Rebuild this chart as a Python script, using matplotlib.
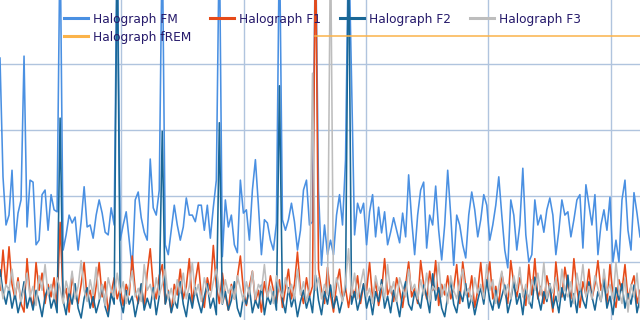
import numpy as np
import matplotlib
matplotlib.use("Agg")
import matplotlib.pyplot as plt

labels = ["Halograph FM", "Halograph F1", "Halograph F2", "Halograph F3", "Halograph fREM"]
colors = ["#4a90e2", "#e64a19", "#1a6796", "#bdbdbd", "#fbb34a"]

fm = [4.09, 2.29, 1.56, 1.71, 2.39, 1.30, 1.74, 1.94, 4.12, 1.53,
      2.24, 2.21, 1.26, 1.33, 2.02, 2.09, 1.48, 2.02, 1.79, 1.76,
      6.0, 1.18, 1.41, 1.71, 1.59, 1.68, 1.18, 1.61, 2.14, 1.53,
      1.56, 1.36, 1.71, 1.94, 1.74, 1.45, 1.41, 1.82, 1.56, 6.0,
      1.33, 1.56, 1.76, 1.33, 0.88, 1.94, 2.06, 1.67, 1.45, 1.33,
      2.56, 1.82, 1.71, 2.09, 6.0, 1.26, 1.11, 1.48, 1.86, 1.56,
      1.33, 1.53, 1.97, 1.71, 1.71, 1.61, 1.86, 1.86, 1.48, 1.86,
      1.36, 1.83, 2.24, 6.0, 1.08, 1.94, 1.53, 1.71, 1.26, 1.14,
      2.24, 1.74, 1.79, 1.33, 2.09, 2.55, 1.86, 1.11, 1.64, 1.59,
      1.33, 1.18, 1.59, 6.0, 1.64, 1.48, 1.64, 1.89, 1.61, 1.18,
      1.48, 2.09, 2.24, 1.56, 1.61, 6.0, 2.09, 0.95, 1.56, 1.11,
      1.33, 1.11, 1.71, 2.02, 1.56, 2.55, 6.0, 3.76, 1.41, 1.89,
      1.74, 1.89, 1.26, 1.76, 2.02, 1.38, 1.83, 1.44, 1.76, 1.26,
      1.45, 1.67, 1.48, 1.29, 1.74, 1.38, 2.32, 1.64, 1.11, 1.71,
      2.09, 2.21, 1.21, 1.71, 1.56, 2.15, 1.48, 1.03, 1.56, 2.39,
      1.71, 0.95, 1.71, 1.56, 1.26, 1.06, 1.71, 2.06, 1.79, 1.38,
      1.64, 2.02, 1.86, 1.33, 1.56, 1.86, 2.29, 1.71, 1.18, 0.91,
      1.94, 1.71, 1.18, 1.56, 2.42, 1.41, 1.00, 1.11, 1.94, 1.56,
      1.71, 1.45, 1.79, 1.97, 1.71, 1.11, 1.48, 1.94, 1.71, 1.76,
      1.38, 1.64, 1.94, 2.02, 1.21, 2.17, 1.86, 1.56, 2.02, 1.11,
      1.56, 1.79, 1.48, 1.98, 1.00, 1.33, 1.00, 1.94, 2.24, 1.48,
      1.18, 2.05, 1.74, 1.38]

f1 = [0.57, 1.18, 0.63, 1.23, 0.66, 0.44, 0.76, 0.37, 0.24, 1.05,
      0.50, 0.31, 0.99, 0.57, 0.83, 0.37, 0.66, 0.47, 0.76, 0.31,
      1.60, 0.44, 0.60, 0.24, 0.79, 0.50, 0.37, 0.66, 0.99, 0.44,
      0.57, 0.31, 0.63, 0.99, 0.47, 0.70, 0.24, 0.53, 0.76, 0.44,
      0.60, 0.34, 0.66, 0.50, 1.09, 0.57, 0.37, 0.66, 0.31, 0.83,
      1.20, 0.63, 0.44, 0.79, 0.96, 0.37, 0.57, 0.24, 0.66, 0.50,
      0.89, 0.44, 0.63, 1.05, 0.37, 0.70, 0.99, 0.50, 0.31, 0.76,
      0.57, 1.25, 0.63, 0.37, 0.83, 0.50, 0.27, 0.66, 0.44, 0.76,
      1.09, 0.57, 0.34, 0.63, 0.86, 0.40, 0.57, 0.24, 0.70, 0.47,
      0.79, 0.57, 0.37, 0.73, 0.31, 0.60, 0.89, 0.44, 0.66, 1.15,
      0.57, 0.37, 0.76, 0.47, 0.63, 6.0, 0.89, 0.57, 0.37, 0.92,
      0.50, 0.24, 0.66, 0.89, 0.44, 0.60, 0.31, 0.63, 0.47, 0.79,
      0.37, 0.66, 0.57, 0.99, 0.44, 0.70, 0.34, 0.57, 1.05, 0.50,
      0.63, 0.40, 0.76, 0.57, 0.31, 0.66, 1.00, 0.47, 0.60, 0.37,
      1.02, 0.66, 0.44, 0.86, 0.57, 1.02, 0.34, 0.66, 0.50, 0.79,
      0.44, 0.60, 0.96, 0.37, 1.00, 0.63, 0.47, 0.79, 0.31, 0.57,
      0.99, 0.50, 0.66, 1.00, 0.44, 0.63, 0.34, 0.83, 0.57, 0.37,
      1.02, 0.66, 0.47, 0.76, 0.57, 0.34, 0.96, 0.50, 1.05, 0.44,
      0.63, 0.37, 0.79, 0.57, 0.24, 1.00, 0.57, 0.47, 0.92, 0.63,
      0.44, 1.05, 0.60, 0.31, 0.70, 0.50, 0.89, 0.44, 0.66, 1.02,
      0.57, 0.76, 0.37, 0.96, 0.50, 0.31, 0.73, 0.57, 0.96, 0.44,
      0.63, 0.79, 0.37, 0.57]

f2 = [0.88, 0.55, 0.36, 0.61, 0.30, 0.52, 0.23, 0.42, 0.70, 0.30,
      0.48, 0.27, 0.57, 0.40, 0.17, 0.48, 0.61, 0.30, 0.45, 0.23,
      3.18, 0.42, 0.20, 0.55, 0.36, 0.67, 0.30, 0.15, 0.45, 0.61,
      0.30, 0.48, 0.23, 0.40, 0.65, 0.32, 0.17, 0.52, 0.36, 6.0,
      0.42, 0.23, 0.57, 0.36, 0.48, 0.17, 0.40, 0.67, 0.27, 0.45,
      0.30, 0.61, 0.20, 0.48, 2.98, 0.36, 0.55, 0.23, 0.42, 0.30,
      0.70, 0.36, 0.17, 0.52, 0.30, 0.61, 0.40, 0.23, 0.48, 0.67,
      0.30, 0.45, 0.20, 3.11, 0.36, 0.55, 0.27, 0.42, 0.70, 0.30,
      0.17, 0.48, 0.36, 0.61, 0.23, 0.42, 0.30, 0.65, 0.20, 0.48,
      0.36, 0.55, 0.27, 3.67, 0.42, 0.23, 0.61, 0.32, 0.48, 0.17,
      0.40, 0.57, 0.30, 0.48, 0.23, 0.80, 0.42, 0.20, 0.55, 0.36,
      0.65, 0.30, 0.48, 0.23, 0.42, 0.61, 6.0, 0.36, 0.55, 0.27,
      0.45, 0.67, 0.30, 0.48, 0.20, 0.55, 0.40, 0.73, 0.30, 0.48,
      0.23, 0.57, 0.40, 0.17, 0.52, 0.70, 0.36, 0.27, 0.55, 0.42,
      0.30, 0.65, 0.48, 0.23, 0.82, 0.42, 0.61, 0.30, 0.17, 0.48,
      0.70, 0.36, 0.23, 0.55, 0.40, 0.67, 0.30, 0.48, 0.20, 0.42,
      0.61, 0.36, 0.73, 0.42, 0.27, 0.57, 0.30, 0.48, 0.65, 0.23,
      0.42, 0.70, 0.36, 0.52, 0.20, 0.61, 0.42, 0.30, 0.77, 0.48,
      0.27, 0.55, 0.40, 0.67, 0.30, 0.48, 0.23, 0.61, 0.42, 0.80,
      0.32, 0.52, 0.23, 0.65, 0.42, 0.30, 0.70, 0.48, 0.27, 0.55,
      0.40, 0.73, 0.30, 0.48, 0.20, 0.61, 0.42, 0.67, 0.30, 0.52,
      0.36, 0.65, 0.23, 0.45]

f3 = [0.76, 0.44, 0.66, 0.57, 0.89, 0.50, 0.70, 0.40, 0.60, 0.83,
      0.47, 0.63, 0.34, 0.79, 0.57, 0.96, 0.50, 0.66, 0.44, 0.76,
      0.60, 0.37, 0.71, 0.53, 0.86, 0.44, 0.63, 1.02, 0.57, 0.40,
      0.73, 0.50, 0.92, 0.44, 0.66, 0.34, 0.76, 0.57, 0.47, 0.83,
      0.53, 0.70, 0.37, 0.63, 0.86, 0.47, 0.60, 0.40, 0.96, 0.57,
      0.66, 0.44, 0.76, 0.50, 0.66, 0.89, 0.44, 0.60, 0.37, 0.73,
      0.53, 0.83, 0.44, 0.63, 0.99, 0.50, 0.66, 0.40, 0.76, 0.57,
      0.47, 0.70, 0.89, 0.57, 0.37, 0.73, 0.53, 0.63, 0.44, 0.79,
      0.60, 0.40, 0.70, 0.50, 0.86, 0.44, 0.66, 0.57, 0.96, 0.47,
      0.63, 0.37, 0.79, 0.57, 0.47, 0.76, 0.53, 0.66, 0.44, 0.89,
      0.50, 0.70, 0.40, 0.60, 3.86, 0.57, 0.76, 0.44, 0.66, 0.50,
      6.0, 0.47, 0.76, 0.57, 0.40, 0.70, 1.20, 0.50, 0.83, 0.44,
      0.66, 0.89, 0.47, 0.60, 0.37, 0.79, 0.57, 0.66, 0.44, 0.96,
      0.53, 0.70, 0.40, 0.76, 0.60, 0.47, 0.89, 0.57, 0.66, 0.44,
      0.73, 0.50, 0.83, 0.40, 0.63, 0.57, 0.99, 0.47, 0.66, 0.37,
      0.79, 0.57, 0.44, 0.70, 0.89, 0.50, 0.60, 0.40, 0.76, 0.53,
      0.66, 0.44, 0.96, 0.57, 0.73, 0.37, 0.63, 0.86, 0.50, 0.66,
      0.44, 0.79, 0.57, 0.92, 0.47, 0.66, 0.37, 0.73, 0.57, 0.83,
      0.50, 0.99, 0.44, 0.66, 0.53, 0.76, 0.40, 0.89, 0.57, 0.47,
      0.70, 0.37, 0.83, 0.57, 0.96, 0.47, 0.63, 0.44, 0.79, 0.60,
      0.40, 0.89, 0.53, 0.66, 0.44, 0.99, 0.57, 0.37, 0.76, 0.24,
      0.66, 0.47, 0.83, 0.31]

# fREM: flat level that starts at sample 105 and runs to the end
frem_start = 105
frem_level = 4.42

n = len(fm)
x = np.arange(n)

fig = plt.figure(figsize=(6.4, 3.2), dpi=100)
ax = fig.add_axes([0, 0, 1, 1])
ax.set_xlim(0, n - 1)
ax.set_ylim(0.12, 4.97)
ax.set_xticks(np.arange(40.3, n, 40.75))
ax.set_yticks([1, 2, 3, 4])
ax.grid(True, color="#b0c4de", linewidth=1.0)
ax.set_axisbelow(True)
ax.tick_params(length=0, labelbottom=False, labelleft=False)
for s in ax.spines.values():
    s.set_visible(False)

series = [fm, f1, f2, f3]
handles = []
for i, (vals, c, lab) in enumerate(zip(series, colors[:4], labels[:4])):
    h, = ax.plot(x, vals, color=c, lw=1.15, zorder=2 + i, label=lab)
    handles.append(h)
hf, = ax.plot(x[frem_start:], [frem_level] * (n - frem_start), color=colors[4],
              lw=1.1, zorder=7, label=labels[4])
handles.append(hf)

order = [0, 4, 1, 2, 3]
leg = fig.legend([handles[k] for k in order], [labels[k] for k in order],
                 loc="upper left", bbox_to_anchor=(64 / 640, 1 - 12.5 / 320),
                 ncol=4, frameon=False, borderpad=0, borderaxespad=0,
                 handlelength=1.78, handletextpad=0.37, columnspacing=1.4,
                 labelspacing=0.40,
                 prop={"family": ["DejaVu Sans"], "stretch": "condensed", "size": 9.7})
for t in leg.get_texts():
    t.set_color("#261a6b")
for lh in leg.get_lines():
    lh.set_linewidth(2.2)

fig.savefig("out.png", dpi=100)
